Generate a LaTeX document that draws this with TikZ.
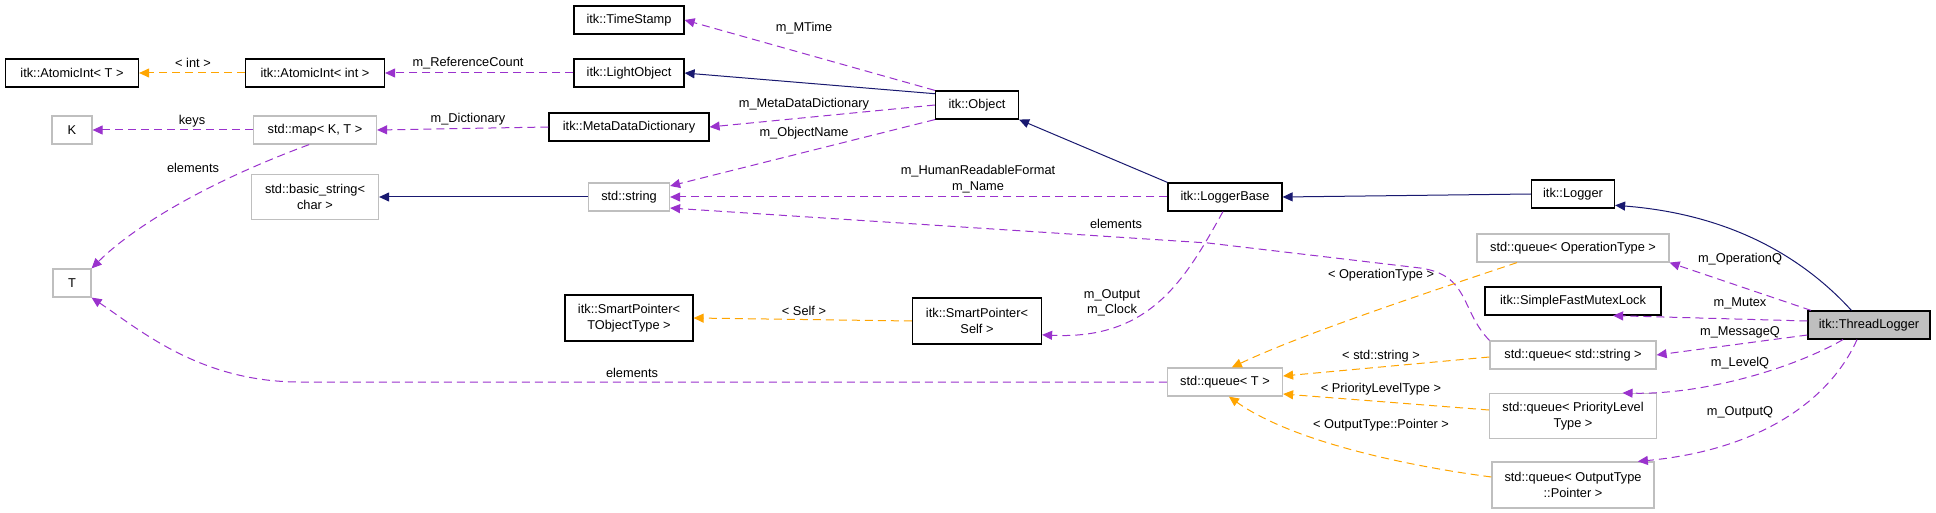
\documentclass[tikz,border=0pt]{standalone}
\usepackage{fontspec}
\setmainfont{Liberation Sans}
\usetikzlibrary{arrows.meta}
\definecolor{pur}{HTML}{9A32CD}
\definecolor{org}{HTML}{FFA500}
\definecolor{nav}{HTML}{191970}
\definecolor{gb}{HTML}{BFBFBF}
\begin{document}
\begin{tikzpicture}[x=0.5pt,y=-0.5pt,
  every node/.style={font=\fontsize{6.4}{7.8}\selectfont},
  box/.style={draw=black,line width=0.6pt,inner sep=0pt,minimum height=14pt,align=center},
  gbox/.style={box,draw=gb},
  lbl/.style={inner sep=0pt,align=center},
  arr/.style={-{Triangle[length=5pt,width=4.5pt]},line width=0.5pt},
  mem/.style={arr,pur,dash pattern=on 4pt off 2.5pt},
  tpl/.style={arr,org,dash pattern=on 4pt off 2.5pt},
  inh/.style={arr,nav}]
\useasboundingbox (0,0) rectangle (1936,513);
\fill[white] (0,0) rectangle (1936,513);
% nodes
\node[box,minimum width=55pt] (ts) at (629,20) {itk::TimeStamp};
\node[box,minimum width=66.5pt] (ait) at (72,73) {itk::AtomicInt< T >};
\node[box,minimum width=69.5pt] (aii) at (315,73) {itk::AtomicInt< int >};
\node[box,minimum width=55pt] (lo) at (629,73) {itk::LightObject};
\node[gbox,minimum width=20pt] (k) at (72,130) {K};
\node[gbox,minimum width=61.5pt] (map) at (315,130) {std::map< K, T >};
\node[box,minimum width=80pt] (mdd) at (629,127) {itk::MetaDataDictionary};
\node[gbox,minimum width=63.5pt,minimum height=22.5pt] (bs) at (315,197) {std::basic\_string<\\char >};
\node[gbox,minimum width=40.5pt] (str) at (629,197) {std::string};
\node[gbox,minimum width=19pt] (t) at (72,283) {T};
\node[box,minimum width=64pt,minimum height=23pt] (spo) at (629,318) {itk::SmartPointer<\\TObjectType >};
\node[box,minimum width=41.5pt] (obj) at (977,105) {itk::Object};
\node[box,minimum width=57pt] (lb) at (1225,197) {itk::LoggerBase};
\node[box,minimum width=64.5pt,minimum height=23pt] (sps) at (977,321) {itk::SmartPointer<\\Self >};
\node[gbox,minimum width=57.5pt] (qt) at (1225,382) {std::queue< T >};
\node[box,minimum width=41.5pt] (lg) at (1573,194) {itk::Logger};
\node[gbox,minimum width=96pt] (qop) at (1573,248) {std::queue< OperationType >};
\node[box,minimum width=88pt] (mx) at (1573,301) {itk::SimpleFastMutexLock};
\node[box,fill=gb,minimum width=61pt] (tl) at (1869,325) {itk::ThreadLogger};
\node[gbox,minimum width=83pt] (qs) at (1573,355) {std::queue< std::string >};
\node[gbox,minimum width=83.5pt,minimum height=22.5pt] (qp) at (1573,416) {std::queue< PriorityLevel\\Type >};
\node[gbox,minimum width=81pt,minimum height=23pt] (qo) at (1573,485) {std::queue< OutputType\\::Pointer >};
% edges
\draw[mem] (obj.north west) -- (ts.east);
\node[lbl] (l1) at (804,28) {m\_MTime};
\draw[inh] (obj.165) -- (lo.east);
\draw[mem] (obj.west) -- (mdd.east);
\node[lbl] (l2) at (804,104) {m\_MetaDataDictionary};
\draw[mem] (obj.south west) -- (str.15);
\node[lbl] (l3) at (804,133) {m\_ObjectName};
\draw[inh] (lb.north west) -- (obj.south east);
\draw[mem] (lb.west) -- (str.east);
\node[lbl] (l4) at (978,179) {m\_HumanReadableFormat\\m\_Name};
\draw[mem] (qs.north west) .. controls (1460,310) and (1470,275) .. (1420,268)
  -- (1208,243) -- (str.-15);
\node[lbl] (l5) at (1116,224) {elements};
\draw[mem] (lb.-98) .. controls (1185,280) and (1150,340) .. (sps.-12);
\node[lbl] (l6) at (1112,303) {m\_Output\\m\_Clock};
\draw[tpl] (sps.west) -- (spo.east);
\node[lbl] (l7) at (804,311) {< Self >};
\draw[mem] (qt.west) -- (300,382) .. controls (200,382) and (140,330) .. (t.south east);
\node[lbl] (l8) at (632,373) {elements};
\draw[mem] (map.west) -- (k.east);
\node[lbl] (l9) at (192,121) {keys};
\draw[mem] (map.-112) .. controls (200,185) and (130,230) .. (t.north east);
\node[lbl] (l10) at (193,168) {elements};
\draw[mem] (mdd.west) -- (map.east);
\node[lbl] (l11) at (468,119) {m\_Dictionary};
\draw[mem] (lo.west) -- (aii.east);
\node[lbl] (l12) at (468,63) {m\_ReferenceCount};
\draw[tpl] (aii.west) -- (ait.east);
\node[lbl] (l13) at (193,63) {< int >};
\draw[inh] (str.west) -- (bs.east);
\draw[inh] (lg.west) -- (lb.east);
\draw[inh] (tl.north west) ++(44,0) .. controls (1810,265) and (1740,215) .. (lg.-15);
\draw[mem] ([xshift=-29pt]tl.north) -- (qop.south east);
\node[lbl] (l14) at (1740,259) {m\_OperationQ};
\draw[mem] ([yshift=2pt]tl.west) -- (mx.-20);
\node[lbl] (l15) at (1740,303) {m\_Mutex};
\draw[mem] ([yshift=-5pt]tl.west) -- (qs.east);
\node[lbl] (l16) at (1740,332) {m\_MessageQ};
\draw[mem] ([xshift=-13pt]tl.south) .. controls (1790,370) and (1700,395) .. (qp.25);
\node[lbl] (l17) at (1740,363) {m\_LevelQ};
\draw[mem] ([xshift=-6pt]tl.south) .. controls (1830,400) and (1760,450) .. (qo.20);
\node[lbl] (l18) at (1740,412) {m\_OutputQ};
\draw[tpl] ([xshift=-28pt]qop.south) .. controls (1420,295) and (1300,335) .. (qt.65);
\node[lbl] (l19) at (1381,275) {< OperationType >};
\draw[tpl] ([yshift=-1pt]qs.west) -- ([yshift=3pt]qt.east);
\node[lbl] (l20) at (1381,356) {< std::string >};
\draw[tpl] ([yshift=3pt]qp.west) -- ([yshift=-6pt]qt.east);
\node[lbl] (l21) at (1381,389) {< PriorityLevelType >};
\draw[tpl] ([yshift=4pt]qo.west) .. controls (1400,465) and (1290,440) .. (qt.-75);
\node[lbl] (l22) at (1381,425) {< OutputType::Pointer >};
\end{tikzpicture}
\end{document}
